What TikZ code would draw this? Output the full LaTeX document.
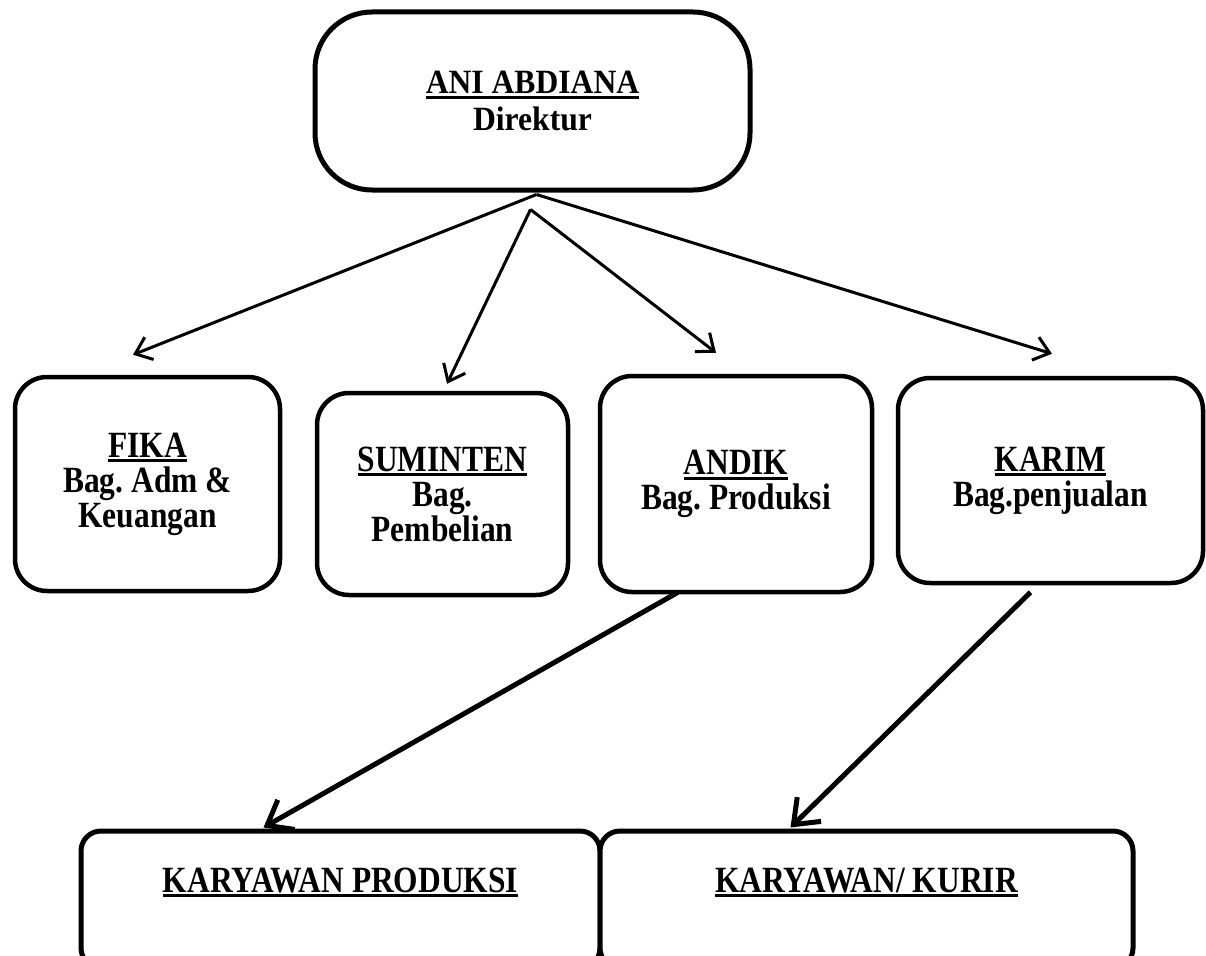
\documentclass[tikz,border=0pt]{standalone}
\usepackage{fontspec}
\setmainfont{Liberation Serif}[FakeStretch=0.85]
\newfontfamily\headfont{Liberation Serif}[FakeStretch=0.93]
\usepackage{tikz}
\usetikzlibrary{arrows.meta, positioning, calc}
\frenchspacing

% underlined name on the first line of a box
\newcommand{\nameline}[1]{\setbox0=\hbox{#1}\rlap{\rule[-5pt]{\wd0}{2.8pt}}\box0}

\begin{document}
\begin{tikzpicture}[
    x=1pt, y=-1pt,
    % Node styles
    block/.style={
        rectangle,
        rounded corners=#1,
        draw=black,
        fill=white,
        line width=4.5pt,
        align=center,
        inner sep=0pt,
        font=\fontsize{37}{35}\selectfont\bfseries
    },
    % Arrow styles
    arrow/.style={
        -{Straight Barb[length=15pt, width=24pt]},
        line width=3pt
    },
    thickarrow/.style={
        -{Straight Barb[length=22pt, width=34pt]},
        line width=5pt
    }
]
\useasboundingbox (0,0) rectangle (1206,955);

% ============================================
% TOP: DIREKTUR
% ============================================
\node[block=57pt, line width=5pt, minimum width=435pt, minimum height=178pt,
      font=\headfont\fontsize{34}{37}\selectfont\bfseries] (direktur) at (532.5,101) {
    \nameline{ANI ABDIANA}\\
    Direktur
};

% ============================================
% ROW 2: BAGIAN
% ============================================
% Adm & Keuangan
\node[block=32pt, minimum width=265pt, minimum height=214pt] (fika) at (147.5,484) {
    \nameline{FIKA}\\
    Bag. Adm \&\\
    Keuangan
};

% Pembelian
\node[block=32pt, minimum width=251pt, minimum height=202pt] (suminten) at (442.5,494) {
    \nameline{SUMINTEN}\\
    Bag.\\
    Pembelian
};

% Produksi
\node[block=32pt, minimum width=272pt, minimum height=216pt] (andik) at (736,484) {
    \nameline{ANDIK}\\
    Bag. Produksi
};

% Penjualan
\node[block=32pt, minimum width=305pt, minimum height=205pt] (karim) at (1050.5,480.5) {
    \nameline{KARIM}\\
    Bag.penjualan
};

% ============================================
% ROW 3: KARYAWAN
% ============================================
\node[block=20pt, line width=5pt, minimum width=519pt, text height=61pt, text depth=76pt] (kproduksi) at (340.5,899.5) {
    \nameline{KARYAWAN PRODUKSI}
};

\node[block=20pt, line width=5pt, minimum width=533pt, text height=61pt, text depth=76pt] (kkurir) at (866.5,899.5) {
    \nameline{KARYAWAN/ KURIR}
};

% ============================================
% ARROWS
% ============================================
\coordinate (fan) at ($(direktur.south)+(4,2)$);
\coordinate (fan2) at ($(direktur.south)+(-2,17)$);

% Direktur -> Bagian
\draw[arrow] (fan) -- ($(fika.north)+(-14.5,-20)$);
\draw[arrow] (fan2) -- ($(suminten.north)+(4.5,-7)$);
\draw[arrow] (fan2) -- ($(andik.north)+(-20,-21)$);
\draw[arrow] (fan) -- ($(karim.north)+(1.5,-22)$);

% Bagian -> Karyawan
\draw[thickarrow] ($(andik.south)+(-58,-2)$) -- ($(kproduksi.north)+(-77,-1)$);
\draw[thickarrow] ($(karim.south)+(-20,7)$) -- ($(kkurir.north)+(-76,-1)$);

\end{tikzpicture}
\end{document}
